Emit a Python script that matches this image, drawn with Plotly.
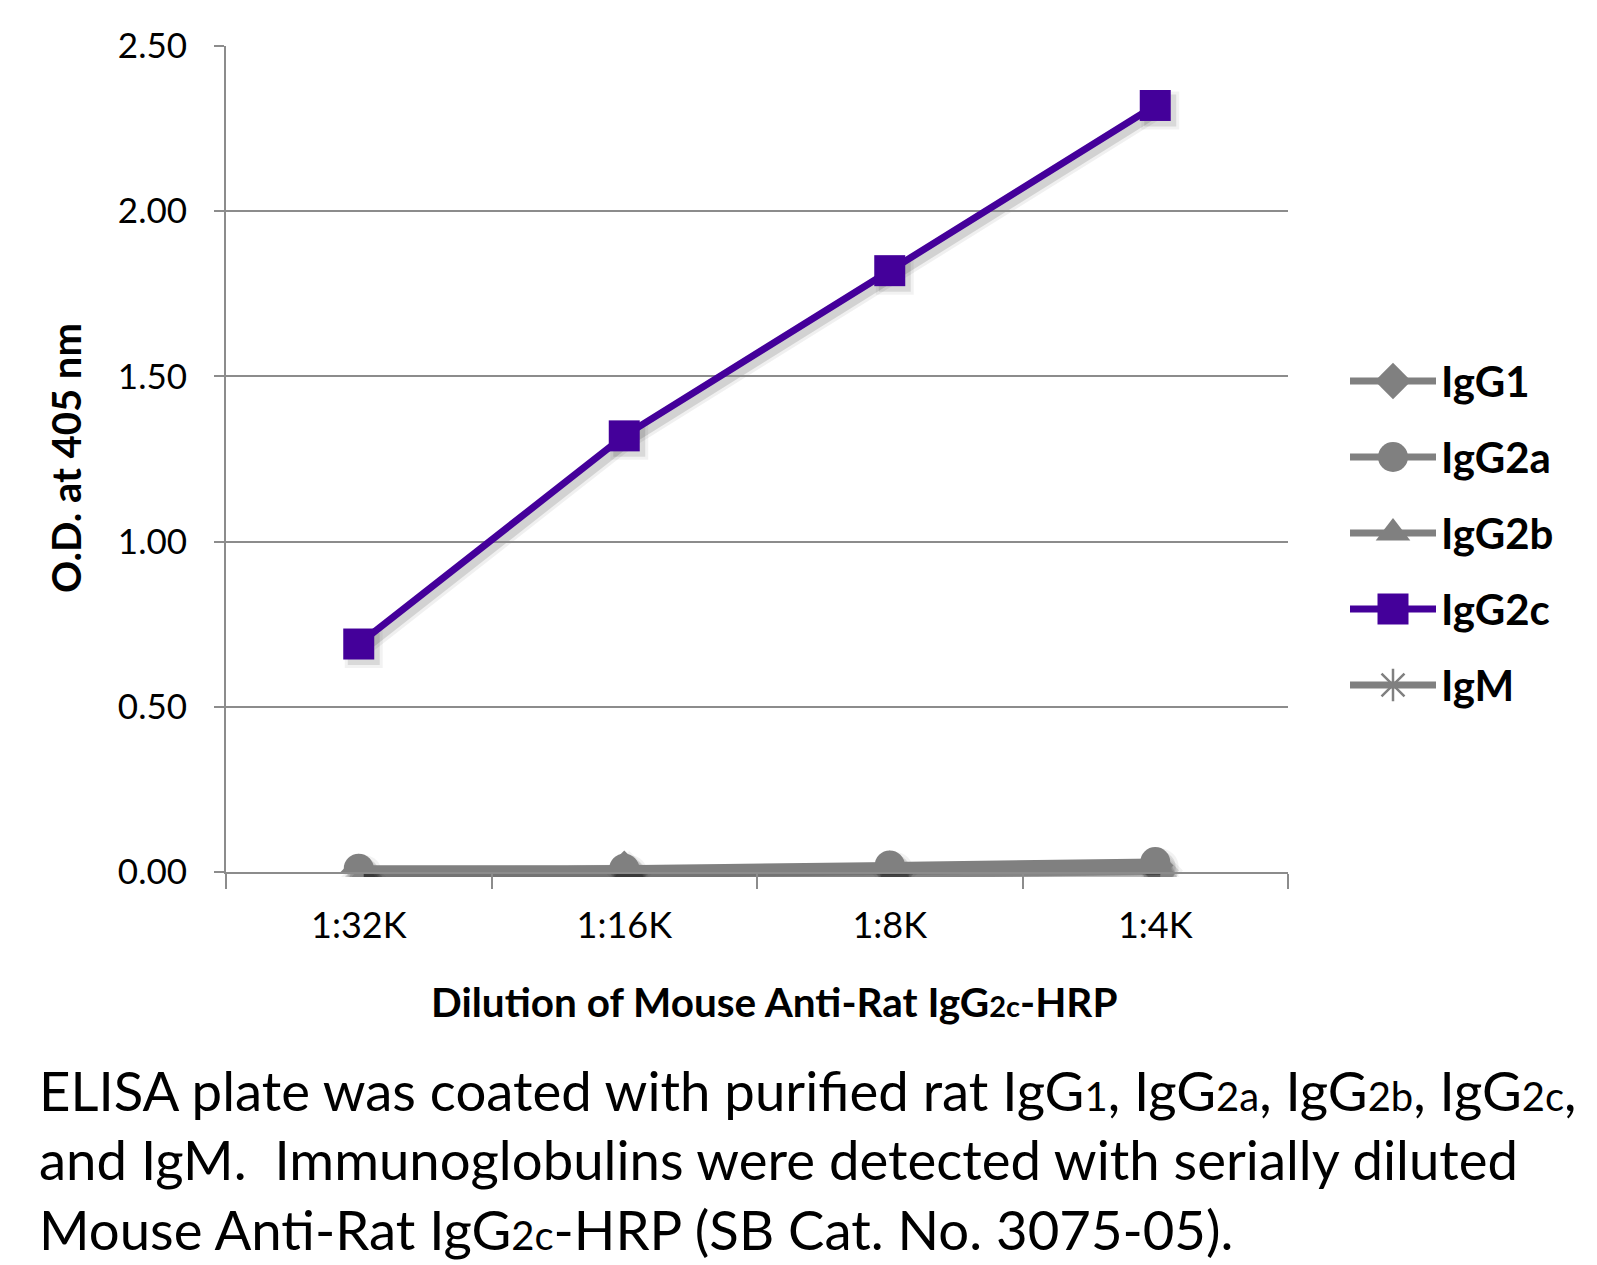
import plotly.graph_objects as go

# ---------------- data ----------------
categories = ["1:32K", "1:16K", "1:8K", "1:4K"]
igg1 = [0.00, 0.01, 0.01, 0.02]
igg2a = [0.01, 0.01, 0.02, 0.03]
igg2b = [0.00, 0.01, 0.01, 0.02]
igg2c = [0.69, 1.32, 1.82, 2.32]
igm = [0.00, 0.00, 0.01, 0.01]
series_names = ["IgG1", "IgG2a", "IgG2b", "IgG2c", "IgM"]
y_tickvals = [0.0, 0.5, 1.0, 1.5, 2.0, 2.5]
y_ticktext = ["0.00", "0.50", "1.00", "1.50", "2.00", "2.50"]

# ---------------- style ----------------
GRAY = "#808080"
PURPLE = "#44009A"
GRID = "#8C8C8C"
FONT = "Lato"

series = [
    dict(name="IgG1", y=igg1, color=GRAY, symbol="diamond", size=28),
    dict(name="IgG2a", y=igg2a, color=GRAY, symbol="circle", size=30),
    dict(name="IgG2b", y=igg2b, color=GRAY, symbol="triangle-up", size=30),
    dict(name="IgG2c", y=igg2c, color=PURPLE, symbol="square", size=31),
    dict(name="IgM", y=igm, color=GRAY, symbol="asterisk-open", size=27),
]

W, H = 1597, 1265
L, R, T, B = 200, 20, 20, 385
PW = W - L - R
PH = H - T - B


def fx(px):
    return (px - L) / PW


def fy(py):
    return (H - B - py) / PH


# main plot area in figure pixels
X0, X1, Y0, Y1 = 218, 1280, 38, 864
SH = 5  # shadow offset

fig = go.Figure()

# shadow layer (subplot xy): soft outer + tighter inner
for s in series:
    sym = s["symbol"] if s["symbol"] != "asterisk-open" else "circle"
    fig.add_trace(go.Scatter(
        x=categories, y=s["y"], mode="lines+markers",
        line=dict(color="rgba(0,0,0,0.06)", width=15),
        marker=dict(symbol=sym, size=s["size"] + 7, color="rgba(0,0,0,0.05)"),
        xaxis="x", yaxis="y", showlegend=False, hoverinfo="skip"))
    fig.add_trace(go.Scatter(
        x=categories, y=s["y"], mode="lines+markers",
        line=dict(color="rgba(0,0,0,0.12)", width=9),
        marker=dict(symbol=sym, size=s["size"] + 1, color="rgba(0,0,0,0.10)"),
        xaxis="x", yaxis="y", showlegend=False, hoverinfo="skip"))

# main layer (subplot x2y2)
for s in series:
    mk = dict(symbol=s["symbol"], size=s["size"], color=s["color"], opacity=1)
    if s["symbol"] == "asterisk-open":
        mk["line"] = dict(color=s["color"], width=2.5)
    fig.add_trace(go.Scatter(
        x=categories, y=s["y"], mode="lines+markers",
        line=dict(color=s["color"], width=7),
        marker=mk, name=s["name"],
        xaxis="x2", yaxis="y2", showlegend=False))

# legend glyphs (subplot x3y3): line + single marker per series
for i, s in enumerate(series):
    fig.add_trace(go.Scatter(
        x=[0, 1], y=[i, i], mode="lines",
        line=dict(color=s["color"], width=7),
        xaxis="x3", yaxis="y3", showlegend=False, hoverinfo="skip"))
    mk = dict(symbol=s["symbol"], size=s["size"], color=s["color"], opacity=1)
    if s["symbol"] == "asterisk-open":
        mk["line"] = dict(color=s["color"], width=2.5)
    fig.add_trace(go.Scatter(
        x=[0.5], y=[i], mode="markers", marker=mk,
        xaxis="x3", yaxis="y3", showlegend=False, hoverinfo="skip"))

annotations = []
for i, s in enumerate(series):
    annotations.append(dict(
        text="<b>%s</b>" % s["name"], x=1, y=i, xref="x3", yref="y3",
        xanchor="left", yanchor="middle", xshift=3, showarrow=False,
        font=dict(family=FONT, size=42, color="black")))

# x-axis title
annotations.append(dict(
    text="<b>Dilution of Mouse Anti-Rat IgG<span style='font-size:29px'>2c</span>-HRP</b>",
    x=fx(766), y=fy(993), xref="paper", yref="paper",
    xanchor="center", yanchor="middle", showarrow=False,
    font=dict(family=FONT, size=40.5, color="black")))

# y-axis title
annotations.append(dict(
    text="<b>O.D. at 405 nm</b>", textangle=-90,
    x=fx(58), y=fy(450), xref="paper", yref="paper",
    xanchor="center", yanchor="middle", showarrow=False,
    font=dict(family=FONT, size=40, color="black")))

# caption
SM = "font-size:40px"
caption_lines = [
    "ELISA plate was coated with purified rat IgG<span style='%s'>1</span>, IgG<span style='%s'>2a</span>, "
    "IgG<span style='%s'>2b</span>, IgG<span style='%s'>2c</span>," % (SM, SM, SM, SM),
    "and IgM.  Immunoglobulins were detected with serially diluted",
    "Mouse Anti-Rat IgG<span style='%s'>2c</span>-HRP (SB Cat. No. 3075-05)." % SM,
]
caption_y = [1082, 1151, 1221]
for line, py in zip(caption_lines, caption_y):
    annotations.append(dict(
        text=line, x=fx(29), y=fy(py), xref="paper", yref="paper",
        xanchor="left", yanchor="middle", showarrow=False,
        font=dict(family=FONT, size=54.5, color="black")))

yrange = [0, 2.5]
xrange = [-0.5, 3.5]

fig.update_layout(
    width=W, height=H,
    margin=dict(l=L, r=R, t=T, b=B, pad=0, autoexpand=False),
    paper_bgcolor="white", plot_bgcolor="rgba(0,0,0,0)",
    showlegend=False,
    annotations=annotations,
    xaxis=dict(domain=[fx(X0 + SH), fx(X1 + SH)], range=xrange, type="category",
               visible=False, fixedrange=True, automargin=False),
    yaxis=dict(domain=[fy(Y1 + SH), fy(Y0 + SH)], range=yrange,
               visible=False, fixedrange=True, automargin=False),
    xaxis2=dict(domain=[fx(X0), fx(X1)], range=xrange, type="category",
                anchor="y2", tickson="boundaries", ticks="outside", ticklen=15,
                tickwidth=2, tickcolor=GRID, showline=True, linecolor=GRID, linewidth=2,
                showgrid=False, ticklabelstandoff=21, automargin=False,
                tickfont=dict(family=FONT, size=36, color="black")),
    yaxis2=dict(domain=[fy(Y1), fy(Y0)], range=yrange, anchor="x2",
                tickmode="array", tickvals=y_tickvals, ticktext=y_ticktext,
                ticks="outside", ticklen=10, tickwidth=2, tickcolor=GRID,
                showline=True, linecolor=GRID, linewidth=2,
                showgrid=True, gridcolor=GRID, gridwidth=2, zeroline=False,
                ticklabelstandoff=20, automargin=False,
                tickfont=dict(family=FONT, size=35, color="black")),
    xaxis3=dict(domain=[fx(1342), fx(1428)], range=[0, 1], anchor="y3",
                visible=False, fixedrange=True, automargin=False),
    yaxis3=dict(domain=[fy(715), fy(335)], range=[4.5, -0.5], anchor="x3",
                visible=False, fixedrange=True, automargin=False),
)

fig.write_html("out.html")
